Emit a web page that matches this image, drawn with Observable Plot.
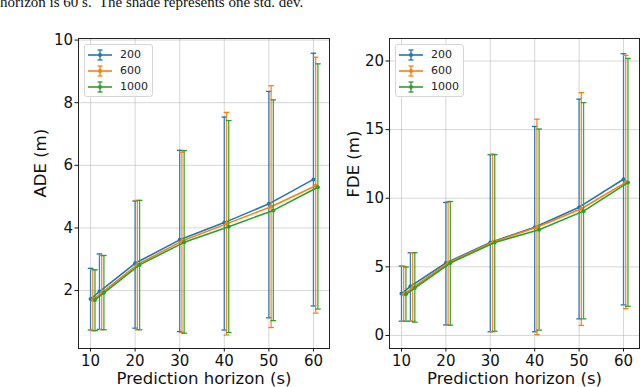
<!DOCTYPE html>
<html><head><meta charset="utf-8">
<script src="https://cdn.jsdelivr.net/npm/d3@7"></script>
<script src="https://cdn.jsdelivr.net/npm/@observablehq/plot@0.6"></script>
<style>
html,body{margin:0;padding:0;background:#fff;}
#root{position:relative;width:640px;height:387px;overflow:hidden;font-family:"DejaVu Sans",sans-serif;}
.abs{position:absolute;}
.legend{position:absolute;border:1px solid #d6d6d6;border-radius:3px;background:rgba(255,255,255,0.85);box-sizing:border-box;}
.legend .lab{position:absolute;font-family:"DejaVu Sans",sans-serif;font-size:11px;color:#222;line-height:12px;}
.legend svg{position:absolute;}
</style></head>
<body><div id="root"></div>
<script>
// ---- data ----
const captionText = "horizon is 60 s.  The shade represents one std. dev.";
const horizons = [10, 12, 20, 30, 40, 50, 60];
const xTicks = [10, 20, 30, 40, 50, 60];
const seriesNames = ["200", "600", "1000"];
const seriesColors = ["#1f77b4", "#ff7f0e", "#2ca02c"];
const xOffsets = [0, 0.5, 1];

const ade200Mean = [1.73, 1.97, 2.87, 3.62, 4.17, 4.77, 5.55];
const ade200Hi   = [2.71, 3.17, 4.86, 6.48, 7.54, 8.36, 9.58];
const ade200Lo   = [0.74, 0.76, 0.80, 0.69, 0.74, 1.13, 1.51];
const ade600Mean = [1.70, 1.93, 2.83, 3.58, 4.13, 4.68, 5.35];
const ade600Hi   = [2.67, 3.12, 4.88, 6.42, 7.69, 8.54, 9.45];
const ade600Lo   = [0.72, 0.75, 0.75, 0.66, 0.58, 0.82, 1.28];
const ade1000Mean = [1.70, 1.93, 2.82, 3.54, 4.04, 4.56, 5.30];
const ade1000Hi   = [2.66, 3.12, 4.88, 6.47, 7.43, 8.09, 9.24];
const ade1000Lo   = [0.72, 0.75, 0.75, 0.64, 0.66, 1.04, 1.41];

const fde200Mean = [3.05, 3.58, 5.28, 6.78, 7.89, 9.35, 11.38];
const fde200Hi   = [5.06, 6.03, 9.69, 13.17, 15.23, 17.22, 20.53];
const fde200Lo   = [1.04, 1.04, 0.77, 0.27, 0.27, 1.21, 2.23];
const fde600Mean = [3.00, 3.49, 5.28, 6.80, 7.89, 9.23, 11.16];
const fde600Hi   = [5.04, 6.03, 9.76, 13.22, 15.76, 17.70, 20.41];
const fde600Lo   = [1.04, 1.04, 0.75, 0.27, 0.07, 0.73, 1.96];
const fde1000Mean = [3.00, 3.46, 5.28, 6.78, 7.70, 9.06, 11.14];
const fde1000Hi   = [4.99, 6.03, 9.76, 13.17, 15.04, 16.97, 20.19];
const fde1000Lo   = [1.04, 0.97, 0.75, 0.31, 0.39, 1.21, 2.13];

const adeTicks = [2, 4, 6, 8, 10];
const fdeTicks = [0, 5, 10, 15, 20];

// ---- drawing ----
const root = document.getElementById("root");

// caption fragment at top (cut off by the page edge, as in the reference)
const cap = d3.create("svg").attr("width", 640).attr("height", 14).attr("class", "abs")
  .style("left", "0px").style("top", "0px");
cap.append("text").attr("x", 0).attr("y", 7)
  .attr("font-family", "Liberation Serif, Times New Roman, serif").attr("font-size", 15)
  .attr("fill", "#111").style("white-space", "pre").text(captionText);
root.appendChild(cap.node());

const capSymbol = { draw(context) { const w = 2.8; context.moveTo(-w, 0); context.lineTo(w, 0); } };

function buildRows(mean, lo, hi, off) {
  return horizons.map((h, j) => ({x: h + off, m: mean[j], lo: lo[j], hi: hi[j]}));
}

function panel({series, yDomain, yTicks, yLabel, width, marginLeft, marginRight, labelDx}) {
  const marks = [
    Plot.gridX(xTicks, {stroke: "#b0b0b0", strokeOpacity: 0.5, strokeWidth: 1}),
    Plot.gridY(yTicks, {stroke: "#b0b0b0", strokeOpacity: 0.5, strokeWidth: 1}),
  ];
  series.forEach((s, i) => {
    const rows = buildRows(s.mean, s.lo, s.hi, xOffsets[i]);
    const c = seriesColors[i];
    marks.push(
      Plot.ruleX(rows, {x: "x", y1: "lo", y2: "hi", stroke: c, strokeWidth: 1.3, strokeOpacity: 0.9}),
      Plot.dot(rows, {x: "x", y: "lo", symbol: capSymbol, r: 3, fill: "none", stroke: c, strokeWidth: 1.3}),
      Plot.dot(rows, {x: "x", y: "hi", symbol: capSymbol, r: 3, fill: "none", stroke: c, strokeWidth: 1.3}),
      Plot.line(rows, {x: "x", y: "m", stroke: c, strokeWidth: 1.6}),
      Plot.dot(rows, {x: "x", y: "m", r: 2, fill: c, stroke: "none"})
    );
  });
  marks.push(
    Plot.frame({stroke: "#222", strokeWidth: 1}),
    Plot.axisX(xTicks, {tickSize: 3.5, tickPadding: 3.5, fontSize: 15, label: null}),
    Plot.axisY(yTicks, {tickSize: 3.5, tickPadding: 2, fontSize: 15, label: null}),
    Plot.text(["Prediction horizon (s)"], {frameAnchor: "bottom", dy: 30.7, fontSize: 16.5, lineAnchor: "middle", fill: "#111"}),
    Plot.text([yLabel], {frameAnchor: "left", dx: labelDx, dy: 4, rotate: -90, fontSize: 16.5, lineAnchor: "middle", fill: "#111"})
  );
  return Plot.plot({
    width, height: 387,
    marginTop: 38, marginBottom: 39, marginLeft, marginRight,
    x: {domain: [7.3, 63.6]},
    y: {domain: yDomain},
    style: {fontFamily: "DejaVu Sans, sans-serif", color: "#111", background: "transparent", overflow: "visible"},
    marks
  });
}

function legend(left, top) {
  const box = document.createElement("div");
  box.className = "legend";
  box.style.left = left + "px"; box.style.top = top + "px";
  box.style.width = "69px"; box.style.height = "53px";
  seriesNames.forEach((name, i) => {
    const cy = 10 + i * 16;
    const svg = d3.create("svg").attr("width", 26).attr("height", 14)
      .style("left", "2px").style("top", (cy - 7) + "px");
    const c = seriesColors[i];
    svg.append("line").attr("x1", 1).attr("x2", 25).attr("y1", 7).attr("y2", 7).attr("stroke", c).attr("stroke-width", 1.6);
    svg.append("line").attr("x1", 13).attr("x2", 13).attr("y1", 2).attr("y2", 12).attr("stroke", c).attr("stroke-width", 1.3);
    svg.append("line").attr("x1", 10.5).attr("x2", 15.5).attr("y1", 2).attr("y2", 2).attr("stroke", c).attr("stroke-width", 1.3);
    svg.append("line").attr("x1", 10.5).attr("x2", 15.5).attr("y1", 12).attr("y2", 12).attr("stroke", c).attr("stroke-width", 1.3);
    svg.append("circle").attr("cx", 13).attr("cy", 7).attr("r", 2).attr("fill", c);
    box.appendChild(svg.node());
    const lab = document.createElement("div");
    lab.className = "lab";
    lab.style.left = "35px"; lab.style.top = (cy - 6) + "px";
    lab.textContent = name;
    box.appendChild(lab);
  });
  return box;
}

const left = panel({
  series: [
    {mean: ade200Mean, lo: ade200Lo, hi: ade200Hi},
    {mean: ade600Mean, lo: ade600Lo, hi: ade600Hi},
    {mean: ade1000Mean, lo: ade1000Lo, hi: ade1000Hi}
  ],
  yDomain: [0.15, 10.05], yTicks: adeTicks, yLabel: "ADE (m)",
  width: 335, marginLeft: 78, marginRight: 6, labelDx: -38
});
const lw = document.createElement("div"); lw.className = "abs"; lw.style.left = "0px"; lw.style.top = "0px";
lw.appendChild(left); root.appendChild(lw);
root.appendChild(legend(84, 44));

const right = panel({
  series: [
    {mean: fde200Mean, lo: fde200Lo, hi: fde200Hi},
    {mean: fde600Mean, lo: fde600Lo, hi: fde600Hi},
    {mean: fde1000Mean, lo: fde1000Lo, hi: fde1000Hi}
  ],
  yDomain: [-0.95, 21.64], yTicks: fdeTicks, yLabel: "FDE (m)",
  width: 305, marginLeft: 54, marginRight: 1, labelDx: -36
});
const rw = document.createElement("div"); rw.className = "abs"; rw.style.left = "335px"; rw.style.top = "0px";
rw.appendChild(right); root.appendChild(rw);
root.appendChild(legend(395, 44));
</script>
</body></html>
